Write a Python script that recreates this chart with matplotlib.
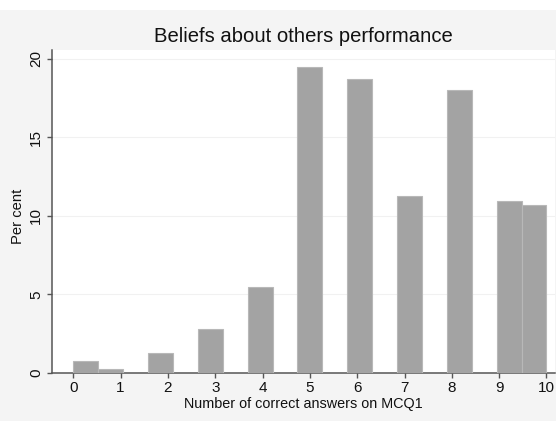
import matplotlib
matplotlib.use("Agg")
import matplotlib.pyplot as plt
import numpy as np

# histogram: 19 equal-width bins spanning 0..10 (percent per bin)
bin_lo = 0.0
bin_hi = 10.0
percent = [0.76, 0.25, 0.0, 1.3, 0.0, 2.78, 0.0, 5.5, 0.0, 19.5,
           0.0, 18.7, 0.0, 11.27, 0.0, 18.0, 0.0, 10.97, 10.72]
x_ticks = list(range(0, 11))
y_ticks = [0, 5, 10, 15, 20]

title = "Beliefs about others performance"
x_label = "Number of correct answers on MCQ1"
y_label = "Per cent"

plt.rcParams["font.family"] = ["Liberation Sans", "DejaVu Sans"]

W, H = 556, 421
fig = plt.figure(figsize=(W / 100, H / 100), dpi=100)
fig.patch.set_facecolor("white")
# grey graph region below a thin white strip at the top
fig.add_artist(plt.Rectangle((0, 0), 1, 1 - 10 / H, transform=fig.transFigure,
                             facecolor="#f4f4f4", edgecolor="none", zorder=-10))

ax = fig.add_axes([52 / W, 1 - 373 / H, (555 - 52) / W, (373 - 50) / H])
ax.set_facecolor("white")

edges = np.linspace(bin_lo, bin_hi, len(percent) + 1)
heights = np.array(percent)
keep = heights > 0
ax.bar(edges[:-1][keep], heights[keep], width=np.diff(edges)[keep], align="edge",
       color="#a3a3a3", edgecolor="#b8b8b8", linewidth=0.8, zorder=3)

ax.set_xlim(-0.45, 10.18)
ax.set_ylim(0, 20.57)
ax.set_xticks(x_ticks)
ax.set_yticks(y_ticks)
ax.grid(axis="y", color="#f1f1f1", linewidth=0.8, zorder=0)
ax.grid(axis="x", visible=False)

for side in ("top", "right"):
    ax.spines[side].set_visible(False)
for side in ("left", "bottom"):
    ax.spines[side].set_color("#555555")
    ax.spines[side].set_linewidth(1.1)

ax.tick_params(axis="both", length=3.5, width=1.0, color="#555555",
               labelsize=11, labelcolor="#111111")
ax.tick_params(axis="x", pad=2.5)
ax.tick_params(axis="y", pad=3)
for lab in ax.get_yticklabels():
    lab.set_rotation(90)
    lab.set_va("center")

fig.text(303.5 / W, 1 - 36 / H, title, ha="center", va="center",
         fontsize=14.6, color="#111111")
fig.text(303 / W, 1 - 404 / H, x_label, ha="center", va="center",
         fontsize=10.4, color="#111111")
fig.text(18 / W, 1 - 216 / H, y_label, ha="center", va="center",
         rotation=90, fontsize=10.6, color="#111111")

fig.savefig("out.png", dpi=100, facecolor=fig.get_facecolor())
